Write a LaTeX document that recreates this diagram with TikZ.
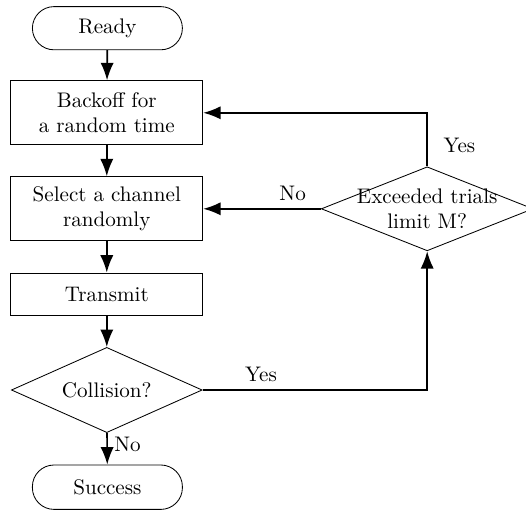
\documentclass[tikz,border=0pt]{standalone}
\usepackage{tikz}
\usetikzlibrary{shapes.geometric,arrows.meta}

\begin{document}
\begin{tikzpicture}[every node/.style={font=\normalsize}, >={Latex[length=2.9mm,width=2.2mm]},
	term/.style={draw, rectangle, rounded corners=3.6mm, minimum width=2.5cm, minimum height=0.72cm, inner sep=1pt},
	proc/.style={draw, rectangle, minimum width=3.2cm, inner sep=1pt, align=center},
	decision/.style={draw, diamond, aspect=2.25, minimum width=3.18cm, minimum height=1.42cm, inner sep=0pt, align=center},
	flow/.style={->, thick}]
	\useasboundingbox (0,0) rectangle (8.767,-8.65);
	\node[term] (ready) at (1.79,-0.47) {Ready};
	\node[proc, minimum height=1.07cm] (backoff) at (1.78,-1.88) {Backoff for\\a random time};
	\node[proc, minimum height=1.07cm] (select) at (1.78,-3.48) {Select a channel\\randomly};
	\node[proc, minimum height=0.7cm] (transmit) at (1.78,-4.9) {Transmit};
	\node[decision] (coll) at (1.78,-6.5) {Collision?};
	\node[term, minimum height=0.74cm] (success) at (1.79,-8.12) {Success};
	\node[decision, aspect=2.5, inner sep=-4pt, minimum width=3.53cm, minimum height=1.4cm] (exceed) at (7.12,-3.48) {Exceeded trials\\limit M?};
	\draw[flow] (ready) -- (backoff);
	\draw[flow] (backoff) -- (select);
	\draw[flow] (select) -- (transmit);
	\draw[flow] (transmit) -- (coll);
	\draw[flow] (coll) -- node[pos=0.35, right, inner sep=3pt] {No} (success);
	\draw[flow] (coll.east) -| node[pos=0.13, above] {Yes} (exceed.south);
	\draw[flow] (exceed.north) |- node[pos=0.2, right, xshift=4pt] {Yes} (backoff.east);
	\draw[flow] (exceed.west) -- node[pos=0.24, above] {No} (select.east);
\end{tikzpicture}
\end{document}
